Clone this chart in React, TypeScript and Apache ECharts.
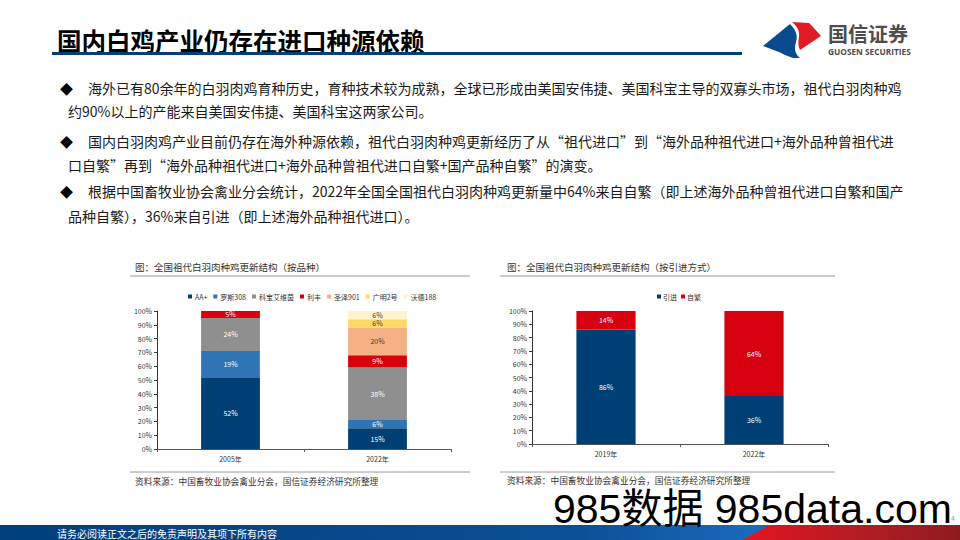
import React, { useEffect, useRef } from "react";
import * as echarts from "echarts";

const categoriesA = ["2005年", "2022年"];
const namesA = ["AA+", "罗斯308", "科宝艾维茵", "利丰", "圣泽901", "广明2号", "沃德188"];
const aaPlus = [52, 15];
const ross308 = [19, 6];
const cobb = [24, 38];
const lifeng = [5, 9];
const shengze901 = [null, 20];
const guangming2 = [null, 6];
const wode188 = [null, 6];
const colorsA = ["#003f73", "#2f75b5", "#8f8f8f", "#d9000d", "#f4b183", "#ffd966", "#fff2cc"];
const labelDarkA = [false, false, false, false, true, true, true];

const categoriesB = ["2019年", "2022年"];
const namesB = ["引进", "自繁"];
const importShare = [86, 36];
const selfBreed = [14, 64];
const colorsB = ["#003f73", "#d7000f"];

const yTicks = [0, 100, 10];

const bodyLines = [
  { t: "海外已有80余年的白羽肉鸡育种历史，育种技术较为成熟，全球已形成由美国安伟捷、美国科宝主导的双寡头市场，祖代白羽肉种鸡", bullet: true },
  { t: "约90%以上的产能来自美国安伟捷、美国科宝这两家公司。", bullet: false },
  { t: "国内白羽肉鸡产业目前仍存在海外种源依赖，祖代白羽肉种鸡更新经历了从“祖代进口”到“海外品种祖代进口+海外品种曾祖代进", bullet: true },
  { t: "口自繁”再到“海外品种祖代进口+海外品种曾祖代进口自繁+国产品种自繁”的演变。", bullet: false },
  { t: "根据中国畜牧业协会禽业分会统计，2022年全国全国祖代白羽肉种鸡更新量中64%来自自繁（即上述海外品种曾祖代进口自繁和国产", bullet: true },
  { t: "品种自繁），36%来自引进（即上述海外品种祖代进口）。", bullet: false },
];
const bodyY = [88, 111, 141, 165, 191, 216];

const FONT = "'Noto Sans CJK SC', 'Noto Sans', sans-serif";

const logoBlue = "M0,24 L27,2 C33,8 35,14 33,20 C31,27 32,32 37,36 L30,36 L22,33 L16,30 Z";
const logoRed = "M29,0 L46,1 L50,5 L58,14 L37,28 C35,24 35,20 36,15 C37,9 34,4 29,0 Z";

export default function App() {
  const ref = useRef<HTMLDivElement>(null);
  useEffect(() => {
    if (!ref.current) return;
    echarts.graphic.registerShape("logoBlue", echarts.graphic.extendPath(logoBlue, {}));
    echarts.graphic.registerShape("logoRed", echarts.graphic.extendPath(logoRed, {}));
    const chart = echarts.init(ref.current, null, { renderer: "svg" });

    const seriesA = [aaPlus, ross308, cobb, lifeng, shengze901, guangming2, wode188].map((d, i) => ({
      name: namesA[i],
      type: "bar",
      stack: "a",
      xAxisIndex: 0,
      yAxisIndex: 0,
      barWidth: "40%",
      data: d,
      itemStyle: { color: colorsA[i] },
      label: {
        show: true,
        position: "inside",
        fontSize: 7,
        fontFamily: FONT,
        color: labelDarkA[i] ? "#404040" : "#ffffff",
        formatter: (p: any) => (p.value == null ? "" : p.value + "%"),
      },
    }));
    const seriesB = [importShare, selfBreed].map((d, i) => ({
      name: namesB[i],
      type: "bar",
      stack: "b",
      xAxisIndex: 1,
      yAxisIndex: 1,
      barWidth: "40%",
      data: d,
      itemStyle: { color: colorsB[i] },
      label: {
        show: true,
        position: "inside",
        fontSize: 7,
        fontFamily: FONT,
        color: "#ffffff",
        formatter: (p: any) => p.value + "%",
      },
    }));

    const yAxisCommon = {
      type: "value",
      min: yTicks[0],
      max: yTicks[1],
      interval: yTicks[2],
      axisLabel: { formatter: "{value}%", fontSize: 7, color: "#333", fontFamily: FONT, margin: 5 },
      axisLine: { show: true, lineStyle: { color: "#333", width: 1 } },
      axisTick: { show: true, length: 3, lineStyle: { color: "#333" } },
      splitLine: { show: false },
    };
    const xAxisCommon = {
      type: "category",
      axisLabel: { fontSize: 7, color: "#333", fontFamily: FONT, margin: 6 },
      axisLine: { show: true, lineStyle: { color: "#555", width: 1 } },
      axisTick: { show: true, length: 3, lineStyle: { color: "#555" } },
    };

    const textEl = (x: number, y: number, text: string, size: number, extra: any = {}) => ({
      type: "text",
      x,
      y,
      style: {
        text,
        fontSize: size,
        fontFamily: FONT,
        fill: "#1a1a1a",
        verticalAlign: "middle",
        ...extra,
      },
    });

    const graphics: any[] = [
      // Title
      textEl(57, 40, "国内白鸡产业仍存在进口种源依赖", 24.5, { fontWeight: "bold", fill: "#000" }),
      { type: "rect", shape: { x: 52, y: 52, width: 690, height: 3 }, style: { fill: "#003f7f" } },
      // Logo
      { type: "logoBlue", x: 763, y: 22, style: { fill: "#0a4a8f" } },
      { type: "logoRed", x: 763, y: 22, style: { fill: "#e01b24" } },
      textEl(828, 33, "国信证券", 20, { fill: "#4d4d4d", fontWeight: "bold" }),
      textEl(828, 51.5, "GUOSEN SECURITIES", 8.3, { fill: "#4d4d4d", fontWeight: "bold", fontFamily: "'Open Sans', sans-serif" }),
      // chart titles and rules
      textEl(135, 267, "图：全国祖代白羽肉种鸡更新结构（按品种）", 9.5, { fill: "#333" }),
      { type: "line", shape: { x1: 130, y1: 276, x2: 470, y2: 276 }, style: { stroke: "#9a9a9a", lineWidth: 1 } },
      { type: "line", shape: { x1: 130, y1: 472, x2: 470, y2: 472 }, style: { stroke: "#9a9a9a", lineWidth: 1 } },
      textEl(135, 481, "资料来源：中国畜牧业协会禽业分会，国信证券经济研究所整理", 8.7, { fill: "#333" }),
      textEl(507, 267, "图：全国祖代白羽肉种鸡更新结构（按引进方式）", 9.5, { fill: "#333" }),
      { type: "line", shape: { x1: 500, y1: 276, x2: 835, y2: 276 }, style: { stroke: "#9a9a9a", lineWidth: 1 } },
      { type: "line", shape: { x1: 500, y1: 472, x2: 835, y2: 472 }, style: { stroke: "#9a9a9a", lineWidth: 1 } },
      textEl(507, 480, "资料来源：中国畜牧业协会禽业分会，国信证券经济研究所整理", 8.7, { fill: "#333" }),
      // footer
      {
        type: "rect",
        shape: { x: 0, y: 525, width: 960, height: 15 },
        style: {
          fill: new echarts.graphic.LinearGradient(0, 0, 1, 0, [
            { offset: 0, color: "#003f7c" },
            { offset: 0.6, color: "#0b4f96" },
            { offset: 0.78, color: "#1a68b8" },
            { offset: 1, color: "#1a68b8" },
          ]),
        },
      },
      {
        type: "polygon",
        shape: { points: [[742, 540], [770, 525], [960, 525], [960, 540]] },
        style: {
          fill: new echarts.graphic.LinearGradient(0, 0, 1, 0, [
            { offset: 0, color: "#e3141d" },
            { offset: 0.5, color: "#b71c24" },
            { offset: 1, color: "#8e1b20" },
          ]),
        },
      },
      textEl(57, 533, "请务必阅读正文之后的免责声明及其项下所有内容", 10, { fill: "#ffffff" }),
      // watermark & page number
      textEl(553, 509, "985数据 985data.com", 41, { fill: "#000", fontFamily: "'Liberation Sans', 'Noto Sans CJK SC', sans-serif" }),
      textEl(951, 518, "4", 7, { fill: "#999" }),
    ];

    bodyLines.forEach((l, i) => {
      if (l.bullet) {
        graphics.push(textEl(60, bodyY[i], "◆", 13, { fill: "#000" }));
        graphics.push(textEl(88, bodyY[i], l.t, 14));
      } else {
        graphics.push(textEl(68, bodyY[i], l.t, 14));
      }
    });

    chart.setOption({
      animation: false,
      backgroundColor: "#ffffff",
      grid: [
        { left: 157, top: 311, width: 294, height: 138 },
        { left: 532, top: 311, width: 296, height: 133 },
      ],
      legend: [
        {
          data: namesA,
          left: 183,
          top: 288,
          icon: "rect",
          itemWidth: 4,
          itemHeight: 4,
          itemGap: 6,
          textStyle: { fontSize: 7, color: "#333", fontFamily: FONT, padding: [0, 0, 0, -2] },
        },
        {
          data: namesB,
          left: 652,
          top: 288,
          icon: "rect",
          itemWidth: 4,
          itemHeight: 4,
          itemGap: 4,
          textStyle: { fontSize: 7, color: "#333", fontFamily: FONT, padding: [0, 0, 0, -3] },
        },
      ],
      xAxis: [
        { ...xAxisCommon, gridIndex: 0, data: categoriesA },
        { ...xAxisCommon, gridIndex: 1, data: categoriesB },
      ],
      yAxis: [
        { ...yAxisCommon, gridIndex: 0 },
        { ...yAxisCommon, gridIndex: 1 },
      ],
      series: [...seriesA, ...seriesB],
      graphic: graphics,
    });
    return () => chart.dispose();
  }, []);
  return (
    <div
      ref={ref}
      style={{ position: "fixed", left: 0, top: 0, width: 960, height: 540, background: "#fff" }}
    />
  );
}
